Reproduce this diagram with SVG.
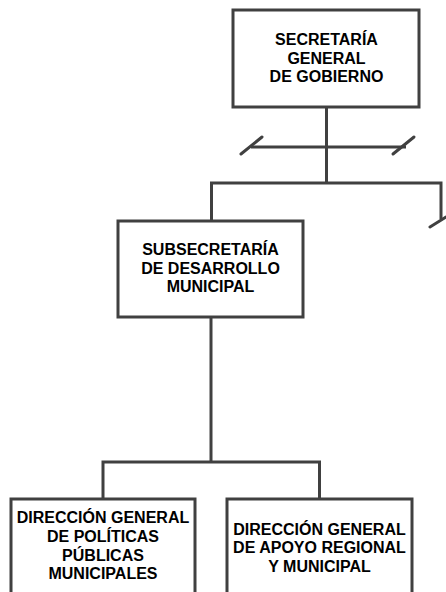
<svg xmlns="http://www.w3.org/2000/svg" width="446" height="592" viewBox="0 0 446 592">
<style>
.box{fill:#fff;stroke:#404040;stroke-width:3}
.ln{fill:none;stroke:#404040;stroke-width:3;stroke-linecap:butt;stroke-linejoin:miter}
.sl{fill:none;stroke:#404040;stroke-width:3;stroke-linecap:round}
text{font-family:"Liberation Sans",Arial,sans-serif;font-weight:bold;font-size:16px;fill:#000;text-anchor:middle}
</style>
<rect width="446" height="592" fill="#fff"/>
<g id="connectors">
<path class="ln" d="M326.5,107 V183"/>
<path class="ln" d="M251,147 H406"/>
<path class="sl" d="M241,154 L262,137"/>
<path class="sl" d="M393,154 L414,137"/>
<path class="ln" d="M211.5,221 V183 H441 V219"/>
<path class="sl" d="M430,227 L446,217"/>
<path class="ln" d="M211,317 V462"/>
<path class="ln" d="M103,499 V462 H319.5 V499"/>
</g>
<g id="n1">
<rect class="box" x="233" y="10" width="186" height="97"/>
<text x="326.5" y="45">SECRETARÍA</text>
<text x="326.5" y="63.5">GENERAL</text>
<text x="326.5" y="82">DE GOBIERNO</text>
</g>
<g id="n2">
<rect class="box" x="118" y="221" width="185" height="96"/>
<text x="210.5" y="255">SUBSECRETARÍA</text>
<text x="210.5" y="273.5">DE DESARROLLO</text>
<text x="210.5" y="292">MUNICIPAL</text>
</g>
<g id="n3">
<rect class="box" x="11" y="499" width="184" height="110"/>
<text x="103" y="523">DIRECCIÓN GENERAL</text>
<text x="103" y="542">DE POLÍTICAS</text>
<text x="103" y="560.5">PÚBLICAS</text>
<text x="103" y="579">MUNICIPALES</text>
</g>
<g id="n4">
<rect class="box" x="227" y="499" width="185" height="110"/>
<text x="319.5" y="534.5">DIRECCIÓN GENERAL</text>
<text x="319.5" y="553">DE APOYO REGIONAL</text>
<text x="319.5" y="571.5">Y MUNICIPAL</text>
</g>
</svg>
